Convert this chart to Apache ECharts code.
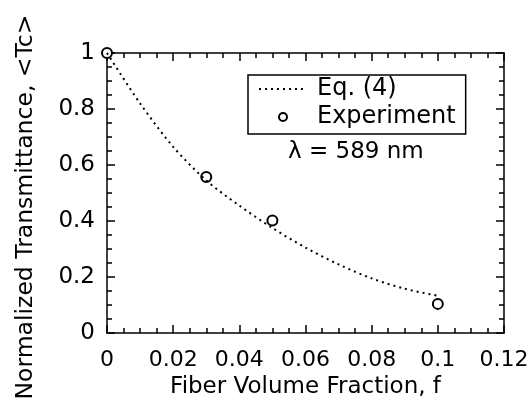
<!DOCTYPE html>
<html>
<head>
<meta charset="utf-8">
<script src="https://cdn.jsdelivr.net/npm/echarts@6/dist/echarts.min.js"></script>
<style>
  html, body { margin: 0; padding: 0; background: #fff; }
  #chart { width: 532px; height: 413px; }
</style>
</head>
<body>
<div id="chart"></div>
<script>
// data
var eqF = [0, 0.01, 0.02, 0.03, 0.04, 0.05, 0.06, 0.07, 0.08, 0.09, 0.1];
var eqT = [1, 0.82, 0.665, 0.545, 0.455, 0.375, 0.305, 0.245, 0.195, 0.158, 0.133];
var expF = [0, 0.03, 0.05, 0.1];
var expT = [1, 0.557, 0.402, 0.104];

var FONT = 'DejaVu Sans';
var mychart = echarts.init(document.getElementById('chart'));

function pairs(xs, ys) {
    return xs.map(function (x, i) { return [x, ys[i]]; });
}

var blackLine = { color: '#000', width: 1.5 };

function frameAxis(extra) {
    var base = {
        type: 'value',
        axisLine: { onZero: false, lineStyle: blackLine },
        axisTick: { inside: true, length: 8, lineStyle: blackLine },
        minorTick: { show: true, splitNumber: 4, length: 5, lineStyle: blackLine },
        splitLine: { show: false }
    };
    return Object.assign(base, extra);
}

option = {
    animation: false,
    textStyle: { fontFamily: FONT, color: '#000' },
    grid: { left: 107, right: 28, top: 53, bottom: 80 },
    legend: {
        orient: 'vertical',
        left: 248,
        top: 75,
        padding: [2, 10, 5, 10],
        itemGap: 4,
        itemWidth: 48,
        itemHeight: 8,
        borderColor: '#000',
        borderWidth: 1.5,
        selectedMode: false,
        textStyle: { fontFamily: FONT, fontSize: 24, color: '#000', lineHeight: 24, padding: [0, 0, 0, 5] },
        data: [
            { name: 'Eq. (4)', itemStyle: { opacity: 0 } },
            { name: 'Experiment' }
        ]
    },
    graphic: [{
        type: 'text',
        left: 288,
        top: 141,
        style: { text: 'λ = 589 nm', font: '23px "DejaVu Sans"', fill: '#000' }
    }],
    xAxis: [
        frameAxis({
            min: 0, max: 0.12, interval: 0.02,
            name: 'Fiber Volume Fraction, f',
            nameLocation: 'middle',
            nameGap: 39,
            nameTextStyle: { fontSize: 23, color: '#000' },
            axisLabel: { fontSize: 22, color: '#000', margin: 16 }
        }),
        frameAxis({
            position: 'top',
            min: 0, max: 0.12, interval: 0.02,
            axisLabel: { show: false }
        })
    ],
    yAxis: [
        frameAxis({
            min: 0, max: 1, interval: 0.2,
            name: 'Normalized Transmittance, <Tc>',
            nameLocation: 'middle',
            nameGap: 69,
            nameTextStyle: { fontSize: 23.5, color: '#000', padding: [0, 28, 0, 0] },
            axisLabel: { fontSize: 23, color: '#000', margin: 12 }
        }),
        frameAxis({
            position: 'right',
            min: 0, max: 1, interval: 0.2,
            axisLabel: { show: false }
        })
    ],
    series: [
        {
            name: 'Eq. (4)',
            type: 'line',
            xAxisIndex: 0,
            yAxisIndex: 0,
            smooth: 0.3,
            symbol: 'none',
            lineStyle: { color: '#000', width: 2, type: [2, 4] },
            itemStyle: { color: '#000' },
            data: pairs(eqF, eqT)
        },
        {
            name: 'Experiment',
            type: 'scatter',
            xAxisIndex: 0,
            yAxisIndex: 0,
            clip: false,
            symbol: 'emptyCircle',
            symbolSize: 10,
            itemStyle: { color: '#000', borderColor: '#000', borderWidth: 1.5, opacity: 1 },
            data: pairs(expF, expT)
        }
    ]
};
mychart.setOption(option);
</script>
</body>
</html>
